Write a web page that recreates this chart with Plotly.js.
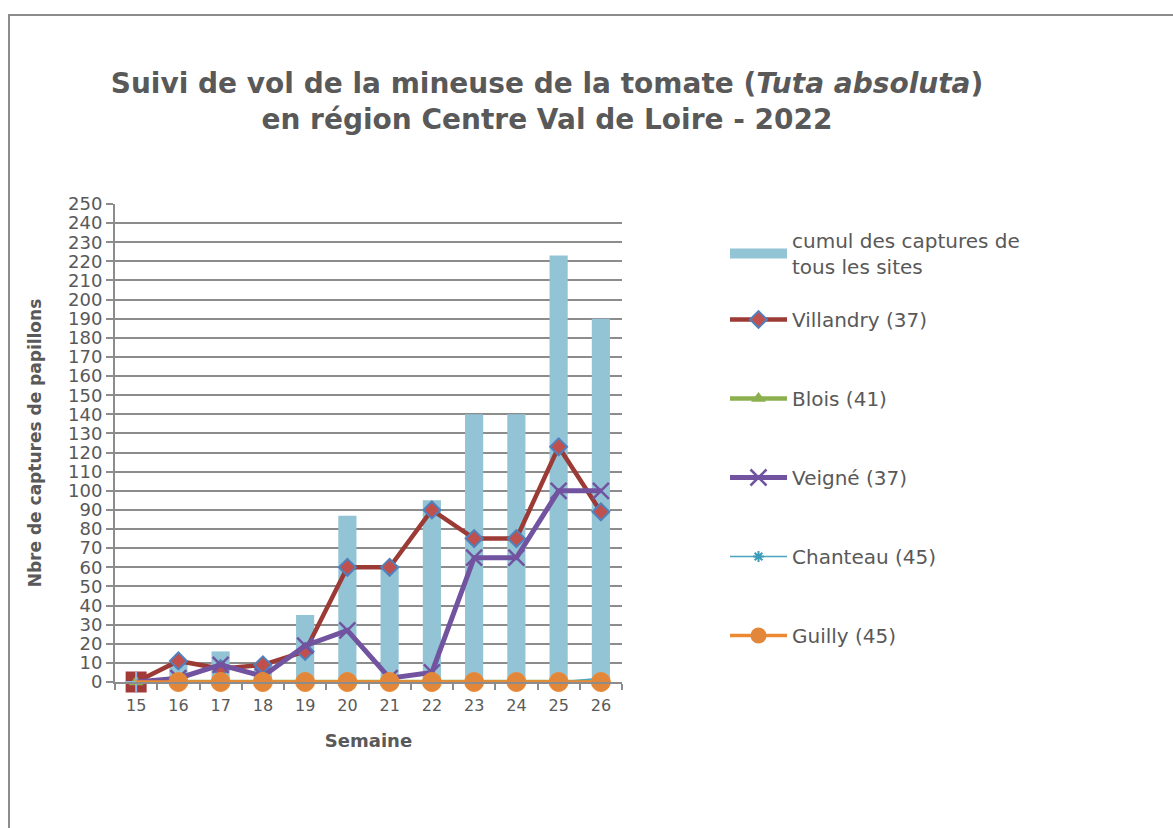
<!DOCTYPE html>
<html><head><meta charset="utf-8">
<script src="https://cdn.plot.ly/plotly-3.0.1.min.js"></script>
<style>
body{margin:0;padding:0;background:#fff;overflow:hidden;}
#frame{position:absolute;left:8px;top:14px;width:1300px;height:900px;border:2px solid #8c8c8c;}
#chart{position:absolute;left:0;top:0;width:1173px;height:828px;}
</style></head>
<body>
<div id="frame"></div>
<div id="chart"></div>
<script>
const semaines = ["15","16","17","18","19","20","21","22","23","24","25","26"];
const cumul     = [0, 11, 16, 10, 35, 87, 61, 95, 140, 140, 223, 190];
const villandry = [0, 11, 7, 9, 16, 60, 60, 90, 75, 75, 123, 89];
const blois     = [0, 0, 0, 0, 0, 0, 0, 0, 0, 0, 0, 0];
const veigne    = [0, 2, 9, 3, 19, 27, 2, 5, 65, 65, 100, 100];
const chanteau  = [0, 0, 0, 0, 0, 0, 0, 0, 0, 0, 0, 2];
const guilly    = [0, 0, 0, 0, 0, 0, 0, 0, 0, 0, 0, 0];
const yTicks = [0,10,20,30,40,50,60,70,80,90,100,110,120,130,140,150,160,170,180,190,200,210,220,230,240,250];
const seriesNames = ["cumul des captures de<br>tous les sites","Villandry (37)","Blois (41)","Veigné (37)","Chanteau (45)","Guilly (45)"];

const font = "DejaVu Sans, sans-serif";
const grey = "#595959";

const st = {
  bar:{color:"#93c4d5"},
  vil:{line:{color:"#9c3a36", width:4.5}, marker:{symbol:"diamond", size:13, color:"#c0504d", opacity:1, line:{color:"#4f81bd", width:2}}},
  blo:{line:{color:"#8db04f", width:4.5}, marker:{symbol:"triangle-up", size:13, color:"#8db04f", opacity:1}},
  vei:{line:{color:"#7153a0", width:5}, marker:{symbol:"x-thin", size:16, opacity:1, line:{color:"#7153a0", width:2.5}}},
  cha:{line:{color:"#4aa3c0", width:1.5}, marker:{symbol:"asterisk", size:9, opacity:1, line:{color:"#3c9bb8", width:2}}},
  gui:{line:{color:"#ec8a34", width:3.5}, marker:{symbol:"circle", size:19, color:"#e2863a", opacity:1}}
};

const first = (a, b) => semaines.map((s,i)=> i===0 ? a : b);

const traces = [
  {type:"bar", x:semaines, y:cumul, name:seriesNames[0], marker:{color:st.bar.color}, showlegend:false},
  {type:"scatter", mode:"lines+markers", x:semaines, y:villandry, name:seriesNames[1], showlegend:false,
   line:st.vil.line, cliponaxis:false,
   marker:{symbol:first("square","diamond"), size:first(19,13), opacity:1,
           color:first("#a33a38","#c0504d"), line:{color:first("#a33a38","#4f81bd"), width:2}}},
  {type:"scatter", mode:"lines+markers", x:semaines, y:blois, name:seriesNames[2], showlegend:false,
   line:st.blo.line, marker:st.blo.marker, cliponaxis:false},
  {type:"scatter", mode:"lines+markers", x:semaines, y:veigne, name:seriesNames[3], showlegend:false,
   line:st.vei.line, cliponaxis:false,
   marker:{symbol:"x-thin", size:first(0,16), opacity:1, line:{color:"#7153a0", width:2.5}}},
  {type:"scatter", mode:"lines+markers", x:semaines, y:chanteau, name:seriesNames[4], showlegend:false,
   line:st.cha.line, cliponaxis:false,
   marker:{symbol:first("cross-thin","asterisk"), size:first(15,9), opacity:1,
           line:{color:first("#8db4e2","#3c9bb8"), width:2}}},
  {type:"scatter", mode:"lines+markers", x:semaines, y:guilly, name:seriesNames[5], showlegend:false,
   line:st.gui.line, cliponaxis:false,
   marker:{symbol:"circle", color:"#e2863a", opacity:1, size:first(0,19)}},
  // legend entries
  {type:"scatter", mode:"lines", x:[null], y:[null], name:seriesNames[0], legend:"legend",
   line:{color:st.bar.color, width:13}},
  {type:"scatter", mode:"lines+markers", x:[null], y:[null], name:seriesNames[1], legend:"legend2", legendgroup:"b", line:st.vil.line, marker:st.vil.marker},
  {type:"scatter", mode:"lines+markers", x:[null], y:[null], name:seriesNames[2], legend:"legend2", legendgroup:"c", line:st.blo.line, marker:st.blo.marker},
  {type:"scatter", mode:"lines+markers", x:[null], y:[null], name:seriesNames[3], legend:"legend2", legendgroup:"d", line:st.vei.line, marker:st.vei.marker},
  {type:"scatter", mode:"lines+markers", x:[null], y:[null], name:seriesNames[4], legend:"legend2", legendgroup:"e", line:st.cha.line, marker:st.cha.marker},
  {type:"scatter", mode:"lines+markers", x:[null], y:[null], name:seriesNames[5], legend:"legend2", legendgroup:"f", line:st.gui.line, marker:st.gui.marker}
];

const legFont = {family:font, size:20, color:grey};
const layout = {
  width:1173, height:828,
  paper_bgcolor:"rgba(0,0,0,0)", plot_bgcolor:"rgba(0,0,0,0)",
  margin:{l:115, r:551, t:204, b:146},
  font:{family:font, color:grey},
  title:{text:"Suivi de vol de la mineuse de la tomate (<i>Tuta absoluta</i>)<br>en région Centre Val de Loire - 2022",
         font:{family:font, size:28, color:grey, weight:"bold"},
         xref:"container", x:547/1173, xanchor:"center",
         yref:"container", y:1-93/828, yanchor:"top"},
  bargap:0.57,
  showlegend:true,
  legend:{xref:"container", x:725/1173, xanchor:"left",
          yref:"container", y:1-221/828, yanchor:"top",
          font:legFont, itemwidth:57, bgcolor:"rgba(0,0,0,0)"},
  legend2:{xref:"container", x:725/1173, xanchor:"left",
          yref:"container", y:1-300/828, yanchor:"top",
          font:legFont, itemwidth:57, traceorder:"grouped", tracegroupgap:50, bgcolor:"rgba(0,0,0,0)"},
  xaxis:{type:"category", range:[-0.5, 11.5], showgrid:false,
         showline:true, linecolor:"#8c8c8c", linewidth:2,
         ticks:"outside", tickson:"boundaries", ticklen:6, tickcolor:"#8c8c8c", tickwidth:2,
         ticklabelstandoff:8,
         tickfont:{family:font, size:16, color:grey},
         title:{text:"Semaine", font:{family:font, size:18, color:grey, weight:"bold"}, standoff:20}},
  yaxis:{range:[0,250], tickvals:yTicks, ticktext:yTicks.map(String),
         showgrid:true, gridcolor:"#8c8c8c", gridwidth:2,
         showline:true, linecolor:"#8c8c8c", linewidth:2, zeroline:false,
         ticks:"outside", ticklen:7, tickcolor:"#8c8c8c", tickwidth:2,
         tickfont:{family:font, size:18, color:grey},
         title:{text:"Nbre de captures de papillons", font:{family:font, size:17, color:grey, weight:"bold"}, standoff:22}}
};

Plotly.newPlot("chart", traces, layout, {displayModeBar:false, staticPlot:true});
</script>
</body></html>
